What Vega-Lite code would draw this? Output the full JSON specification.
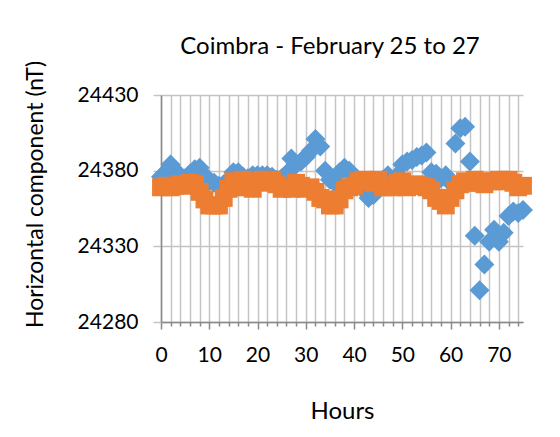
{
  "$schema": "https://vega.github.io/schema/vega-lite/v6.json",
  "width": 362,
  "height": 227,
  "autosize": "none",
  "padding": {"left": 161, "top": 95, "right": 37, "bottom": 115},
  "background": "white",
  "config": {"view": {"stroke": null}, "font": "Lato"},
  "title": {"text": "Coimbra - February 25 to 27", "fontSize": 24, "font": "Lato", "fontWeight": "normal", "color": "#000000", "anchor": "middle", "dx": -12, "dy": 13, "offset": 14},
  "data": {"values": [
    {"h":0,"s":"Series1","v":24376},{"h":1,"s":"Series1","v":24379},{"h":2,"s":"Series1","v":24384},{"h":3,"s":"Series1","v":24380},
    {"h":4,"s":"Series1","v":24376},{"h":5,"s":"Series1","v":24375},{"h":6,"s":"Series1","v":24378},{"h":7,"s":"Series1","v":24381},
    {"h":8,"s":"Series1","v":24382},{"h":9,"s":"Series1","v":24377},{"h":10,"s":"Series1","v":24373},{"h":11,"s":"Series1","v":24372},
    {"h":12,"s":"Series1","v":24370},{"h":13,"s":"Series1","v":24371},{"h":14,"s":"Series1","v":24374},{"h":15,"s":"Series1","v":24379},
    {"h":16,"s":"Series1","v":24379},{"h":17,"s":"Series1","v":24376},{"h":18,"s":"Series1","v":24375},{"h":19,"s":"Series1","v":24377},
    {"h":20,"s":"Series1","v":24377},{"h":21,"s":"Series1","v":24377},{"h":22,"s":"Series1","v":24377},{"h":23,"s":"Series1","v":24376},
    {"h":24,"s":"Series1","v":24374},{"h":25,"s":"Series1","v":24375},{"h":26,"s":"Series1","v":24378},{"h":27,"s":"Series1","v":24388},
    {"h":28,"s":"Series1","v":24384},{"h":29,"s":"Series1","v":24386},{"h":30,"s":"Series1","v":24389},{"h":31,"s":"Series1","v":24393},
    {"h":32,"s":"Series1","v":24401},{"h":33,"s":"Series1","v":24396},{"h":34,"s":"Series1","v":24380},{"h":35,"s":"Series1","v":24374},
    {"h":36,"s":"Series1","v":24372},{"h":37,"s":"Series1","v":24379},{"h":38,"s":"Series1","v":24382},{"h":39,"s":"Series1","v":24380},
    {"h":40,"s":"Series1","v":24376},{"h":41,"s":"Series1","v":24372},{"h":42,"s":"Series1","v":24367},{"h":43,"s":"Series1","v":24362},
    {"h":44,"s":"Series1","v":24364},{"h":45,"s":"Series1","v":24368},{"h":46,"s":"Series1","v":24374},{"h":47,"s":"Series1","v":24377},
    {"h":48,"s":"Series1","v":24374},{"h":49,"s":"Series1","v":24377},{"h":50,"s":"Series1","v":24384},{"h":51,"s":"Series1","v":24386},
    {"h":52,"s":"Series1","v":24387},{"h":53,"s":"Series1","v":24389},{"h":54,"s":"Series1","v":24390},{"h":55,"s":"Series1","v":24392},
    {"h":56,"s":"Series1","v":24379},{"h":57,"s":"Series1","v":24378},{"h":58,"s":"Series1","v":24375},{"h":59,"s":"Series1","v":24377},
    {"h":60,"s":"Series1","v":24372},{"h":61,"s":"Series1","v":24398},{"h":62,"s":"Series1","v":24408},{"h":63,"s":"Series1","v":24409},
    {"h":64,"s":"Series1","v":24386},{"h":65,"s":"Series1","v":24337},{"h":66,"s":"Series1","v":24301},{"h":67,"s":"Series1","v":24318},
    {"h":68,"s":"Series1","v":24333},{"h":69,"s":"Series1","v":24341},{"h":70,"s":"Series1","v":24333},{"h":71,"s":"Series1","v":24339},
    {"h":72,"s":"Series1","v":24350},{"h":73,"s":"Series1","v":24353},{"h":74,"s":"Series1","v":24352},{"h":75,"s":"Series1","v":24354},
    {"h":0,"s":"Series2","v":24369},{"h":1,"s":"Series2","v":24370},{"h":2,"s":"Series2","v":24369},{"h":3,"s":"Series2","v":24370},
    {"h":4,"s":"Series2","v":24371},{"h":5,"s":"Series2","v":24370},{"h":6,"s":"Series2","v":24372},{"h":7,"s":"Series2","v":24371},
    {"h":8,"s":"Series2","v":24366},{"h":9,"s":"Series2","v":24361},{"h":10,"s":"Series2","v":24357},{"h":11,"s":"Series2","v":24357},
    {"h":12,"s":"Series2","v":24357},{"h":13,"s":"Series2","v":24362},{"h":14,"s":"Series2","v":24368},{"h":15,"s":"Series2","v":24373},
    {"h":16,"s":"Series2","v":24369},{"h":17,"s":"Series2","v":24374},{"h":18,"s":"Series2","v":24371},{"h":19,"s":"Series2","v":24368},
    {"h":20,"s":"Series2","v":24373},{"h":21,"s":"Series2","v":24374},{"h":22,"s":"Series2","v":24372},{"h":23,"s":"Series2","v":24374},
    {"h":24,"s":"Series2","v":24371},{"h":25,"s":"Series2","v":24368},{"h":26,"s":"Series2","v":24369},{"h":27,"s":"Series2","v":24368},
    {"h":28,"s":"Series2","v":24372},{"h":29,"s":"Series2","v":24370},{"h":30,"s":"Series2","v":24368},{"h":31,"s":"Series2","v":24369},
    {"h":32,"s":"Series2","v":24366},{"h":33,"s":"Series2","v":24362},{"h":34,"s":"Series2","v":24361},{"h":35,"s":"Series2","v":24357},
    {"h":36,"s":"Series2","v":24357},{"h":37,"s":"Series2","v":24361},{"h":38,"s":"Series2","v":24367},{"h":39,"s":"Series2","v":24369},
    {"h":40,"s":"Series2","v":24370},{"h":41,"s":"Series2","v":24373},{"h":42,"s":"Series2","v":24374},{"h":43,"s":"Series2","v":24373},
    {"h":44,"s":"Series2","v":24372},{"h":45,"s":"Series2","v":24374},{"h":46,"s":"Series2","v":24369},{"h":47,"s":"Series2","v":24370},
    {"h":48,"s":"Series2","v":24369},{"h":49,"s":"Series2","v":24372},{"h":50,"s":"Series2","v":24373},{"h":51,"s":"Series2","v":24369},
    {"h":52,"s":"Series2","v":24370},{"h":53,"s":"Series2","v":24371},{"h":54,"s":"Series2","v":24370},{"h":55,"s":"Series2","v":24369},
    {"h":56,"s":"Series2","v":24367},{"h":57,"s":"Series2","v":24362},{"h":58,"s":"Series2","v":24360},{"h":59,"s":"Series2","v":24357},
    {"h":60,"s":"Series2","v":24362},{"h":61,"s":"Series2","v":24367},{"h":62,"s":"Series2","v":24371},{"h":63,"s":"Series2","v":24373},
    {"h":64,"s":"Series2","v":24372},{"h":65,"s":"Series2","v":24374},{"h":66,"s":"Series2","v":24372},{"h":67,"s":"Series2","v":24371},
    {"h":68,"s":"Series2","v":24373},{"h":69,"s":"Series2","v":24373},{"h":70,"s":"Series2","v":24374},{"h":71,"s":"Series2","v":24373},
    {"h":72,"s":"Series2","v":24374},{"h":73,"s":"Series2","v":24372},{"h":74,"s":"Series2","v":24369},{"h":75,"s":"Series2","v":24370}
  ]},
  "encoding": {
    "x": {"field": "h", "type": "quantitative",
      "scale": {"domain": [0, 75], "nice": false, "zero": false},
      "axis": {
        "values": [0,2,4,6,8,10,12,14,16,18,20,22,24,26,28,30,32,34,36,38,40,42,44,46,48,50,52,54,56,58,60,62,64,66,68,70,72,74],
        "labelExpr": "datum.value % 10 === 0 ? datum.label : ''",
        "grid": true, "gridColor": "#C4C4C4", "gridWidth": 1.5,
        "domainColor": "#898989", "domainWidth": 1.5,
        "tickColor": "#898989", "tickWidth": 1.5,
        "tickSize": {"condition": {"test": "datum.value % 10 === 0", "value": 7}, "value": 4},
        "labelFontSize": 21, "labelFont": "Lato", "labelColor": "#000000", "labelPadding": 15,
        "labelFlush": false, "labelOverlap": false,
        "title": "Hours", "titleFont": "Lato", "titleFontSize": 24, "titleFontWeight": "normal", "titleColor": "#000000", "titlePadding": 34
      }
    },
    "y": {"field": "v", "type": "quantitative",
      "scale": {"domain": [24280, 24430], "nice": false, "zero": false},
      "axis": {
        "values": [24280, 24330, 24380, 24430],
        "format": "d",
        "grid": true, "gridColor": "#C4C4C4", "gridWidth": 1.5,
        "domainColor": "#898989", "domainWidth": 1.5,
        "tickColor": "#C4C4C4", "tickWidth": 1.5, "tickSize": 8,
        "labelFontSize": 21, "labelFont": "Lato", "labelColor": "#000000", "labelPadding": 15,
        "title": "Horizontal component (nT)", "titleFont": "Lato", "titleFontSize": 23, "titleFontWeight": "normal", "titleColor": "#000000",
        "titleX": -126, "titleY": 99, "titleBaseline": "middle", "titleAlign": "center", "titleAngle": -90
      }
    }
  },
  "layer": [
    {"transform": [{"filter": "datum.s === 'Series1'"}],
     "mark": {"type": "point", "shape": "diamond", "filled": true, "opacity": 1, "strokeWidth": 0, "size": 400, "color": "#5B9BD5"}},
    {"transform": [{"filter": "datum.s === 'Series2'"}],
     "mark": {"type": "point", "shape": "square", "filled": true, "opacity": 1, "strokeWidth": 0, "size": 320, "color": "#ED7D31"}}
  ]
}
